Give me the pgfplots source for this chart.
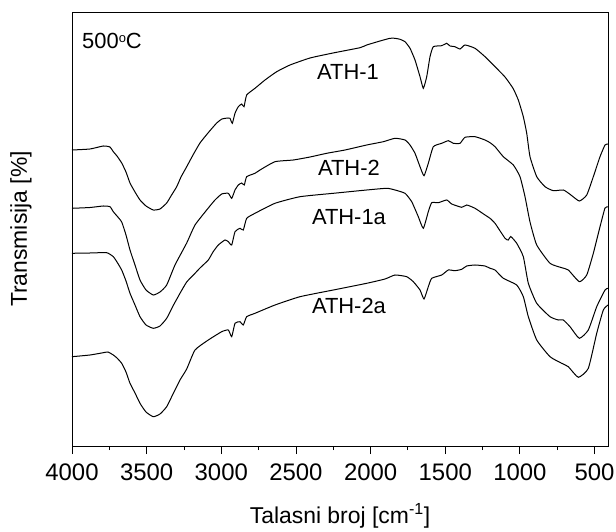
\documentclass[border=0pt]{standalone}
\usepackage{pgfplots}
\pgfplotsset{compat=1.18}
\usepackage{fontspec}
\setmainfont{Liberation Sans}
\begin{document}
\fontsize{22}{26}\selectfont
\begin{tikzpicture}
\begin{axis}[
  scale only axis,
  width=536bp, height=434bp,
  x dir=reverse,
  xmin=410, xmax=4000,
  ymin=0, ymax=434,
  ytick=\empty,
  xtick={4000,3500,3000,2500,2000,1500,1000,500},
  minor xtick={3750,3250,2750,2250,1750,1250,750},
  xtick pos=bottom,
  tick align=outside,
  major tick length=8bp,
  minor tick length=4bp,
  axis line style={line width=0.9bp},
  every tick/.style={line width=0.9bp, black},
  /pgf/number format/assume math mode=true,
  /pgf/number format/set thousands separator={},
  xticklabel style={font=\fontsize{24}{28}\selectfont, yshift=-2bp},
  xlabel={Talasni broj [cm\textsuperscript{-1}]},
  ylabel={Transmisija [\%]},
  xlabel style={font=\fontsize{23}{26}\selectfont, at={(axis description cs:0.5,-0.16)}, anchor=center},
  ylabel style={font=\fontsize{23}{26}\selectfont, at={(axis description cs:-0.095,0.5)}, anchor=center},
]
% ATH-1
\addplot[black, line width=1bp, no markers, smooth, tension=0.3] coordinates {
(4000,296) (3879.4,297) (3790.4,300) (3745.5,299) (3723.4,294.3) (3698.6,290) (3667.1,283) (3638.3,274) (3611.5,263) (3578.0,254) (3544.5,246) (3504.3,240) (3455.5,236) (3410.6,237) (3365.7,243) (3336.9,250) (3298.7,259.3) (3269.9,269) (3231.7,279.3) (3189.5,291) (3142.7,303) (3089.1,313) (3030.8,323) (2995.3,327) (2955.1,328) (2941.7,327.7) (2926.3,322.7) (2908.2,332.7) (2886.1,339.3) (2863.4,342) (2847.9,339.3) (2829.9,351) (2774.3,357.7) (2707.3,366) (2628.9,374.3) (2539.8,381) (2405.8,388) (2251.8,393) (2071.0,398.3) (2026.1,401) (1937.0,405) (1870.0,407.7) (1836.5,407.7) (1803.1,406.7) (1769.6,404.3) (1736.1,397.7) (1702.6,386) (1669.1,369.3) (1647.0,357.7) (1624.2,369.3) (1602.1,389.3) (1580.0,399.3) (1523.7,400.3) (1490.2,402.7) (1468.2,400) (1434.7,399.3) (1401.2,397) (1367.7,401) (1300.7,397.7) (1233.7,389.3) (1166.7,379.3) (1099.7,369) (1046.2,357.7) (1010.7,346) (977.2,329.3) (954.4,312.7) (932.3,289.3) (887.4,269.3) (831.8,259.3) (776.2,255.3) (709.2,256) (664.4,251.7) (602.1,245) (552.5,251) (508.3,269.3) (463.5,289.3) (430.0,301) (410,302)
};
% ATH-2
\addplot[black, line width=1bp, no markers, smooth, tension=0.3] coordinates {
(4000,237.7) (3879.4,238.5) (3790.4,240) (3745.5,239.3) (3723.4,234.3) (3698.6,230) (3667.1,224) (3638.3,211) (3611.5,196) (3578.0,181) (3544.5,166) (3504.3,156) (3455.5,151) (3410.6,154) (3365.7,161) (3310.1,181) (3231.7,203) (3176.1,221) (3087.0,238) (3042.2,246) (2997.3,252) (2953.1,252.7) (2930.3,247.7) (2908.2,256) (2886.1,261) (2863.4,263) (2846.0,261) (2829.9,269.3) (2774.3,272.7) (2740.8,276) (2640.3,284.3) (2517.8,286) (2405.8,289) (2294.0,292.7) (2171.4,296) (2026.1,301) (1914.9,304.3) (1836.5,307.7) (1769.6,306) (1736.1,301) (1702.6,292.7) (1669.1,279.3) (1642.3,270.3) (1613.5,282.7) (1580.0,299.3) (1523.7,302.7) (1479.5,305.3) (1446.0,302.7) (1401.2,302.7) (1367.7,308.7) (1300.7,309.3) (1233.7,306) (1200.2,303.3) (1166.7,299.3) (1111.1,289.3) (1044.1,281) (999.3,269.3) (965.8,249.3) (932.3,224) (887.4,201) (798.4,182.7) (720.0,178.3) (675.8,176) (602.1,164.3) (552.5,171) (508.3,192.7) (463.5,219.3) (430.0,238) (410,239)
};
% ATH-1a
\addplot[black, line width=1bp, no markers, smooth, tension=0.3] coordinates {
(4000,192.7) (3879.4,193) (3767.6,193.3) (3723.4,189.3) (3698.6,184) (3667.1,176) (3638.3,165) (3611.5,152.7) (3578.0,141) (3544.5,129.3) (3504.3,121) (3455.5,117.7) (3410.6,120) (3365.7,127.7) (3323.5,140) (3276.6,152.7) (3231.7,164) (3176.1,172.7) (3142.7,178) (3087.0,186) (3055.6,194) (3020.1,201) (2975.2,206) (2953.1,204.3) (2930.3,201) (2908.2,214.3) (2874.7,217.7) (2852.6,216) (2829.9,227.7) (2774.3,232.7) (2640.3,242.7) (2472.9,249.3) (2249.8,252.7) (2026.1,256) (1892.1,257.7) (1836.5,256) (1769.6,252.7) (1724.7,244.3) (1680.5,229.3) (1647.0,217.7) (1613.5,234.3) (1590.7,243.3) (1546.5,243.3) (1490.2,246) (1456.7,242) (1389.7,238.7) (1356.2,241) (1300.7,237.7) (1233.7,231) (1200.2,227.7) (1166.7,222.7) (1099.7,207.7) (1077.6,206) (1061.5,209.5) (1021.3,202.7) (977.1,189.3) (943.6,162.7) (887.4,142.7) (798.4,129.3) (742.8,126) (709.3,126) (664.4,119.3) (602.1,107.7) (541.8,116) (485.6,139.3) (430.0,156) (410,157.7)
};
% ATH-2a
\addplot[black, line width=1bp, no markers, smooth, tension=0.3] coordinates {
(4000,89.3) (3879.4,91) (3790.4,93.3) (3758.9,94) (3723.4,91) (3698.6,88) (3667.1,82.7) (3638.3,74) (3611.5,62.7) (3578.0,53) (3544.5,42.7) (3504.3,34) (3455.5,29.3) (3410.6,32) (3365.7,39.3) (3323.5,52) (3276.6,66) (3231.7,77) (3176.1,96) (3087.0,106) (2997.3,114.3) (2953.1,116) (2930.3,109.3) (2908.2,122.7) (2874.7,124.3) (2852.6,121) (2829.9,129.3) (2774.3,132.7) (2640.3,141) (2472.9,149.3) (2249.8,156) (2026.1,162.7) (1903.5,167) (1836.5,171) (1758.2,169.3) (1714.0,164.3) (1669.1,156) (1642.3,147) (1613.5,159.3) (1590.7,167.7) (1523.7,171) (1479.5,176) (1434.7,175.3) (1389.7,176.7) (1356.2,180) (1300.7,181) (1233.7,180) (1200.2,177.7) (1166.7,176) (1111.1,167.7) (1021.3,161) (977.1,149.3) (943.6,129.3) (887.4,106) (798.4,89.3) (720.0,82.7) (675.8,79.3) (608.8,68.7) (541.8,77.7) (485.6,112.7) (441.4,136) (410,141)
};
\node[anchor=center] at (axis cs:2151,374) {ATH-1};
\node[anchor=center] at (axis cs:2145,278) {ATH-2};
\node[anchor=center] at (axis cs:2145,229) {ATH-1a};
\node[anchor=center] at (axis cs:2145,140) {ATH-2a};
\node[anchor=west, inner sep=0pt] at (axis cs:3933,405) {500\raisebox{0.55ex}{\fontsize{13}{13}\selectfont o}C};
\end{axis}
\pgfresetboundingbox
\path (-72bp,-86bp) rectangle (544bp,446bp);
\end{tikzpicture}
\end{document}
